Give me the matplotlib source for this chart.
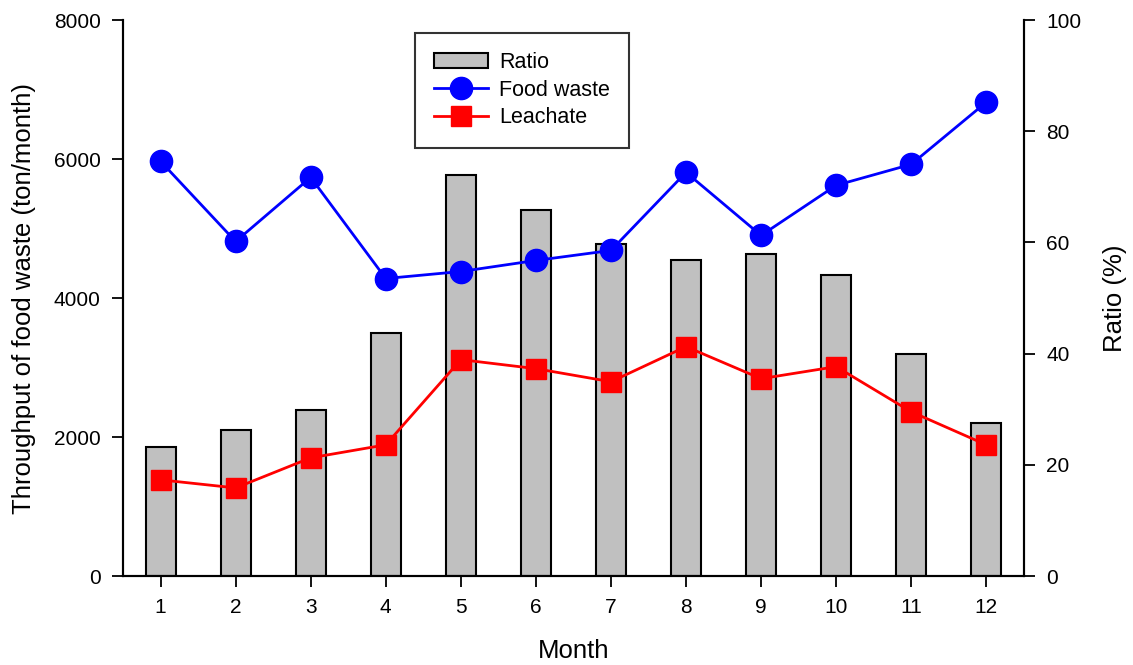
import matplotlib
matplotlib.use('Agg')
import matplotlib.pyplot as plt
import numpy as np

plt.rcParams['font.family'] = ['Liberation Sans', 'DejaVu Sans']

# Data
months = [1, 2, 3, 4, 5, 6, 7, 8, 9, 10, 11, 12]
food_waste = [5968, 4814, 5737, 4281, 4382, 4541, 4685, 5809, 4901, 5622, 5924, 6818]
leachate = [1384, 1268, 1701, 1888, 3114, 2984, 2796, 3301, 2840, 3013, 2364, 1888]
ratio = [23.2, 26.3, 29.9, 43.8, 72.1, 65.8, 59.8, 56.9, 58.0, 54.2, 40.0, 27.6]

fig = plt.figure(figsize=(11.33, 6.65), dpi=100)
ax = fig.add_axes([0.1086, 0.1338, 0.795, 0.836])
ax2 = ax.twinx()

# bars on the right axis, drawn behind lines
ax2.bar(months, ratio, width=0.4, color='#c0c0c0', edgecolor='black', linewidth=1.5, label='Ratio', zorder=1)
ax2.set_ylim(0, 100)
ax2.set_ylabel('Ratio (%)', fontsize=18.5, labelpad=16)

ax.set_zorder(ax2.get_zorder() + 1)
ax.patch.set_visible(False)
ax.plot(months, food_waste, color='blue', marker='o', markersize=16, linewidth=2, label='Food waste')
ax.plot(months, leachate, color='red', marker='s', markersize=14, linewidth=2, label='Leachate')
ax.set_xlim(0.5, 12.5)
ax.set_ylim(0, 8000)
ax.set_xticks(months)
ax.set_yticks([0, 2000, 4000, 6000, 8000])
ax2.set_yticks([0, 20, 40, 60, 80, 100])
ax.set_xlabel('Month', fontsize=18.5, labelpad=16)
ax.set_ylabel('Throughput of food waste (ton/month)', fontsize=18.5, labelpad=13)

for a in (ax, ax2):
    a.spines['top'].set_visible(False)
    for s in a.spines.values():
        s.set_linewidth(1.5)
    a.tick_params(direction='out', length=8, width=1.3, labelsize=15, pad=8)

h1, l1 = ax2.get_legend_handles_labels()
h2, l2 = ax.get_legend_handles_labels()
leg = ax.legend(h1 + h2, l1 + l2, loc='upper left', bbox_to_anchor=(0.324, 0.977),
                prop={'size': 15.5}, frameon=True, fancybox=False, edgecolor='black',
                handlelength=2.5, handletextpad=0.5, borderpad=0.9, labelspacing=0.3,
                borderaxespad=0)
leg.get_frame().set_linewidth(1.5)

fig.savefig('out.png', dpi=100)
